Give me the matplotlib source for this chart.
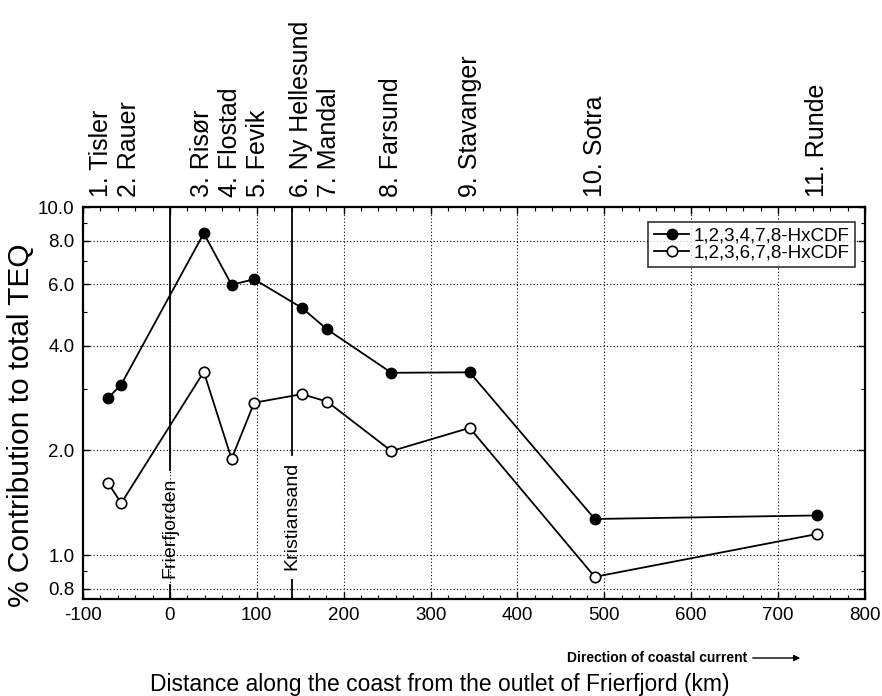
import matplotlib
matplotlib.use("Agg")
import matplotlib.pyplot as plt
from matplotlib.ticker import FixedLocator, FixedFormatter, MultipleLocator

plt.rcParams['font.family'] = ['Liberation Sans', 'DejaVu Sans']
plt.rcParams['axes.unicode_minus'] = False

stations = ["1. Tisler", "2. Rauer", "3. Risør", "4. Flostad", "5. Fevik",
            "6. Ny Hellesund", "7. Mandal", "8. Farsund", "9. Stavanger",
            "10. Sotra", "11. Runde"]
distance = [-71, -56, 39, 71, 97, 152, 181, 255, 345, 489, 745]
hxcdf_123478 = [2.83, 3.09, 8.40, 5.98, 6.20, 5.13, 4.45, 3.34, 3.35, 1.27, 1.30]
hxcdf_123678 = [1.61, 1.41, 3.36, 1.89, 2.74, 2.90, 2.76, 1.99, 2.32, 0.866, 1.15]
series_labels = ["1,2,3,4,7,8-HxCDF", "1,2,3,6,7,8-HxCDF"]
ref_lines = [0, 140]
ref_names = ["Frierfjorden", "Kristiansand"]
yticks = [0.8, 1.0, 2.0, 4.0, 6.0, 8.0, 10.0]
ytick_labels = ["0.8", "1.0", "2.0", "4.0", "6.0", "8.0", "10.0"]
xticks = [-100, 0, 100, 200, 300, 400, 500, 600, 700, 800]

W, H = 882, 696
fig = plt.figure(figsize=(W/100, H/100), dpi=100)
ax = fig.add_axes([83/W, 1-599/H, (865-83)/W, (599-207)/H])

ax.set_yscale('log')
ax.set_xlim(-100, 800)
ax.set_ylim(0.748, 10)

# grid
for gx in xticks[1:-1]:
    ax.axvline(gx, color='black', lw=0.8, ls=(0, (1, 2)), zorder=1)
for gy in yticks[:-1]:
    ax.axhline(gy, color='black', lw=0.8, ls=(0, (1, 2)), zorder=1)

# reference vertical lines with gaps for their labels
ref_layout = {0: dict(segs=[(0.0, 0.036), (0.329, 1.0)], ty=0.181),
              140: dict(segs=[(0.0, 0.048), (0.367, 1.0)], ty=0.212)}
for xv, name in zip(ref_lines, ref_names):
    lay = ref_layout[xv]
    for y0, y1 in lay['segs']:
        ax.axvline(xv, ymin=y0, ymax=y1, color='black', lw=1.3, zorder=2)
    ax.text(xv, lay['ty'], name, rotation=90, ha='center', va='center',
            fontsize=14, transform=ax.get_xaxis_transform())

ax.plot(distance, hxcdf_123478, '-o', color='black', lw=1.3, ms=7.5,
        mfc='black', mec='black', label=series_labels[0], zorder=3)
ax.plot(distance, hxcdf_123678, '-o', color='black', lw=1.3, ms=7.5,
        mfc='white', mec='black', mew=1.2, label=series_labels[1], zorder=3)

ax.yaxis.set_major_locator(FixedLocator(yticks))
ax.yaxis.set_major_formatter(FixedFormatter(ytick_labels))
ax.yaxis.set_minor_locator(FixedLocator([0.9, 3, 5, 7, 9]))
ax.yaxis.set_minor_formatter(FixedFormatter([]))
ax.xaxis.set_major_locator(FixedLocator(xticks))
ax.xaxis.set_minor_locator(MultipleLocator(20))

ax.tick_params(which='both', direction='in', top=True, right=True, labelsize=13.5)
ax.tick_params(which='major', length=5, width=1, pad=6)
ax.tick_params(which='minor', length=3, width=0.8)
for s in ax.spines.values():
    s.set_linewidth(1.6)

fig.text(21/W, 1-425/H, "% Contribution to total TEQ", rotation=90,
         ha='center', va='center', fontsize=21.5)

# station labels on top, spread apart where they would overlap
px_per_km = (865-83) / 900.0
min_sep = 28.0 / px_per_km
label_x = list(distance)
for _ in range(10):
    for i in range(len(label_x)-1):
        gap = label_x[i+1] - label_x[i]
        if gap < min_sep:
            shift = (min_sep - gap) / 2
            label_x[i] -= shift
            label_x[i+1] += shift
for xd, name in zip(label_x, stations):
    ax.text(xd, 1.025, name, rotation=90, ha='center', va='bottom',
            fontsize=18, transform=ax.get_xaxis_transform())

leg = ax.legend(loc='upper right', bbox_to_anchor=(0.987, 0.962), borderaxespad=0,
                fontsize=13.5, frameon=True, fancybox=False, edgecolor='black',
                handlelength=1.9, handletextpad=0.2, borderpad=0.3,
                labelspacing=0.0)
leg.get_frame().set_linewidth(1.2)

fig.text(440/W, 1-684/H, "Distance along the coast from the outlet of Frierfjord (km)",
         ha='center', va='center', fontsize=16.5)
fig.text(747/W, 1-658/H, "Direction of coastal current", ha='right', va='center',
         fontsize=10, fontweight='bold')
fig.add_artist(matplotlib.patches.FancyArrowPatch((750/W, 1-658/H), (803/W, 1-658/H),
               transform=fig.transFigure, arrowstyle='-|>', mutation_scale=9,
               color='black', lw=1.0))

fig.savefig("out.png", dpi=100)
